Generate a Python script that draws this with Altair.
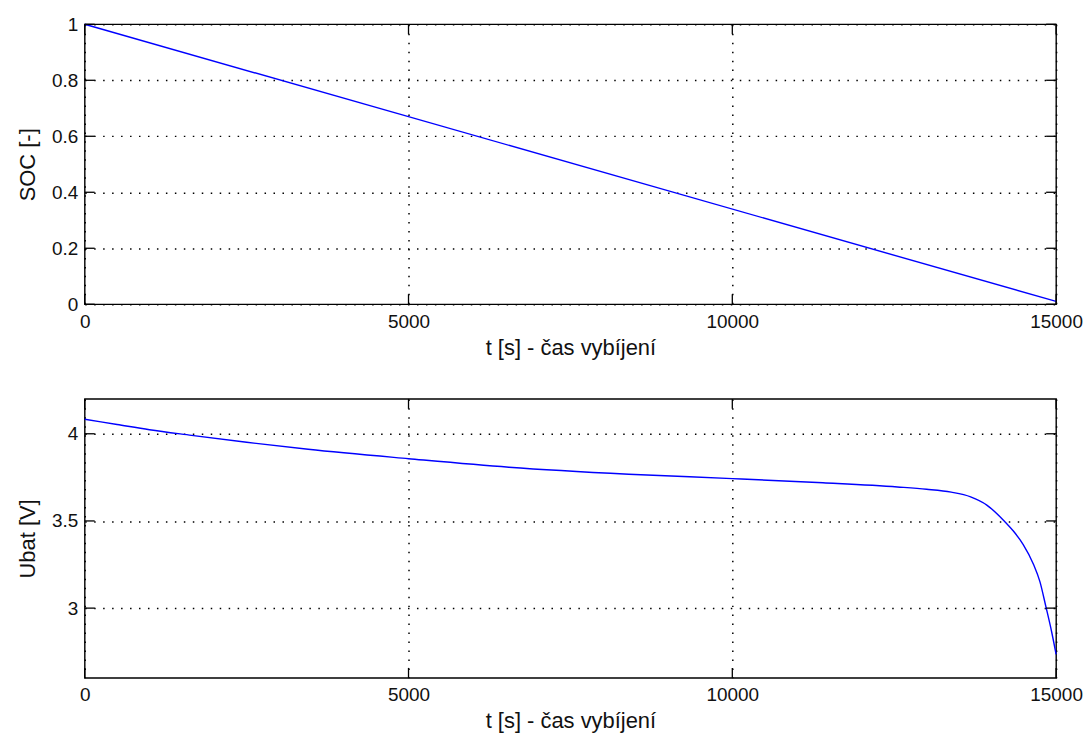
import altair as alt
import pandas as pd

# ---- data ----
soc_t = [0, 15000]
soc_v = [1.0, 0.01]

u_t = [0, 500, 1000, 1650, 2500, 3450, 5000, 6550, 8400, 10000, 11400, 12550,
       13000, 13380, 13680, 13930, 14190, 14340, 14490, 14650, 14750, 14840,
       14930, 15000]
u_v = [4.083, 4.053, 4.023, 3.991, 3.951, 3.911, 3.857, 3.808, 3.768, 3.743,
       3.719, 3.695, 3.682, 3.665, 3.638, 3.591, 3.503, 3.442, 3.366, 3.252,
       3.152, 3.012, 2.866, 2.735]

x_ticks = [0, 5000, 10000, 15000]
soc_ticks = [0, 0.2, 0.4, 0.6, 0.8, 1.0]
u_ticks = [3.0, 3.5, 4.0]
soc_domain = [0, 1]
u_domain = [2.6, 4.2]
x_domain = [0, 15000]
x_title = "t [s] - čas vybíjení"
soc_title = "SOC [-]"
u_title = "Ubat [V]"

W = 975
FONT = "Liberation Sans"
TICK_LEN = 10
INK = "#111111"


def panel(t, v, yticks, ydomain, ytitle, h):
    df = pd.DataFrame({"t": t, "v": v})
    xs = alt.Scale(domain=x_domain, nice=False, zero=False)
    ys = alt.Scale(domain=ydomain, nice=False, zero=False)
    xaxis = alt.Axis(values=x_ticks, ticks=False, domain=False, grid=True,
                     gridDash=[1.5, 7.5], gridColor="black", gridWidth=1.5,
                     gridOpacity=1, labelFlush=False, labelPadding=8,
                     labelFont=FONT, labelFontSize=19, labelColor=INK,
                     format="d",
                     title=x_title, titleFont=FONT, titleFontSize=22,
                     titleFontWeight="normal", titleColor=INK,
                     titlePadding=6)
    yaxis = alt.Axis(values=yticks, ticks=False, domain=False, grid=True,
                     gridDash=[1.5, 7.5], gridColor="black", gridWidth=1.5,
                     gridOpacity=1, labelPadding=7, labelFont=FONT,
                     labelFontSize=19, labelColor=INK, format="~g",
                     title=ytitle, titleFont=FONT, titleFontSize=22,
                     titleFontWeight="normal", titleColor=INK,
                     titlePadding=12)
    line = alt.Chart(df).mark_line(color="#0000ff", strokeWidth=1.4,
                                   interpolate="monotone").encode(
        x=alt.X("t:Q", scale=xs, axis=xaxis),
        y=alt.Y("v:Q", scale=ys, axis=yaxis),
    )
    xt = pd.DataFrame({"t": x_ticks})
    yt = pd.DataFrame({"v": yticks})
    bt = alt.Chart(xt).mark_rule(color="black", strokeWidth=1.3).encode(
        x=alt.X("t:Q", scale=xs), y=alt.value(h - TICK_LEN), y2=alt.value(h))
    tt = alt.Chart(xt).mark_rule(color="black", strokeWidth=1.3).encode(
        x=alt.X("t:Q", scale=xs), y=alt.value(0), y2=alt.value(TICK_LEN))
    lt = alt.Chart(yt).mark_rule(color="black", strokeWidth=1.3).encode(
        y=alt.Y("v:Q", scale=ys), x=alt.value(0), x2=alt.value(TICK_LEN))
    rt = alt.Chart(yt).mark_rule(color="black", strokeWidth=1.3).encode(
        y=alt.Y("v:Q", scale=ys), x=alt.value(W - TICK_LEN), x2=alt.value(W))
    return alt.layer(line, bt, tt, lt, rt).properties(width=W, height=h)


top = panel(soc_t, soc_v, soc_ticks, soc_domain, soc_title, 281)
bottom = panel(u_t, u_v, u_ticks, u_domain, u_title, 280)

chart = alt.vconcat(top, bottom, spacing=38).properties(
    padding={"left": 7, "top": 5, "right": 0, "bottom": 0},
    background="white",
).configure_view(stroke="black", strokeWidth=1.4)

chart.save("out.html", embed_options={"renderer": "svg", "actions": False})
